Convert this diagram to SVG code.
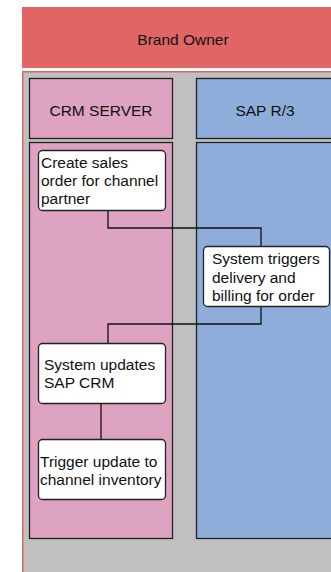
<svg xmlns="http://www.w3.org/2000/svg" width="331" height="572" viewBox="0 0 331 572">
<style>
text{font-family:"Liberation Sans",Arial,sans-serif;font-size:15.5px;fill:#111}
.lane{stroke:#222;stroke-width:1.3}
.node rect{fill:#fff;stroke:#222;stroke-width:1.3}
.conn path{fill:none;stroke:#111;stroke-width:1.3}
</style>
<rect x="0" y="0" width="331" height="572" fill="#fff"/>
<g id="pool">
<rect x="22" y="7" width="310" height="61" fill="#E06666"/>
<text x="183" y="45" text-anchor="middle">Brand Owner</text>
<rect x="22" y="71" width="310" height="502" fill="#C0C0C0"/>
<path d="M22.75 71V572M22 71.75H331" stroke="#E06666" stroke-width="1.5" fill="none"/>
</g>
<g id="lane-crm">
<rect class="lane" x="29.5" y="78.5" width="143" height="60" fill="#DEA3C0"/>
<text x="101" y="116" text-anchor="middle">CRM SERVER</text>
<rect class="lane" x="29.5" y="142.5" width="143" height="396" fill="#DEA3C0"/>
</g>
<g id="lane-sap">
<rect class="lane" x="196.5" y="78.5" width="140" height="60" fill="#8EADDB"/>
<text x="265" y="116" text-anchor="middle">SAP R/3</text>
<rect class="lane" x="196.5" y="142.5" width="140" height="396" fill="#8EADDB"/>
</g>
<g class="conn" id="connectors">
<path d="M108 211V228H261V246"/>
<path d="M261 307V324H108V343"/>
<path d="M101 404V439"/>
</g>
<g class="node" id="n1">
<rect x="38.5" y="150.5" width="127" height="60" rx="4"/>
<text x="41" y="168">Create sales</text>
<text x="41" y="186">order for channel</text>
<text x="41" y="204">partner</text>
</g>
<g class="node" id="n2">
<rect x="203.5" y="246.5" width="126" height="60" rx="4"/>
<text x="212" y="264">System triggers</text>
<text x="212" y="283">delivery and</text>
<text x="212" y="301">billing for order</text>
</g>
<g class="node" id="n3">
<rect x="38.5" y="343.5" width="127" height="60" rx="4"/>
<text x="44" y="370">System updates</text>
<text x="44" y="388">SAP CRM</text>
</g>
<g class="node" id="n4">
<rect x="38.5" y="439.5" width="127" height="60" rx="4"/>
<text x="40" y="467">Trigger update to</text>
<text x="40" y="485">channel inventory</text>
</g>
</svg>
